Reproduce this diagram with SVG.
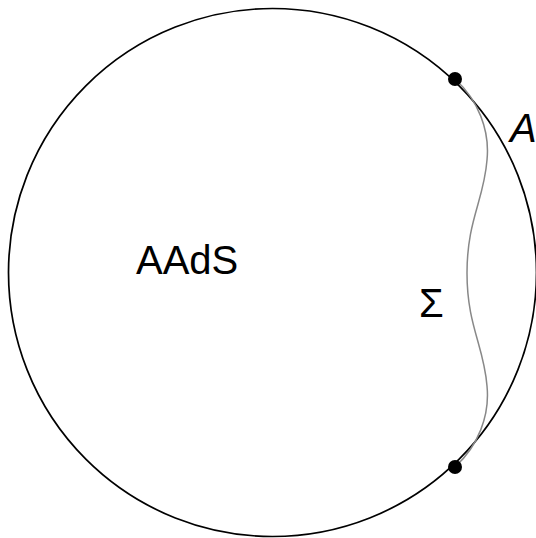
<svg xmlns="http://www.w3.org/2000/svg" width="536" height="538" viewBox="0 0 536 538">
<style>
.lbl{font-family:"Liberation Sans",Arial,sans-serif;font-size:40px;fill:#000}
.dot{fill:#000}
</style>
<rect width="536" height="538" fill="#fff"/>
<g id="boundary">
<circle cx="272.5" cy="272.5" r="264" fill="none" stroke="#000" stroke-width="1.7"/>
</g>
<g id="connectors">
<path d="M455,79 C478,100 490,130 487,160 C484,200 467,220 467,273 C467,326 484,346 487,386 C490,416 478,446 455,467" fill="none" stroke="#888" stroke-width="1.5"/>
</g>
<g id="dot-top"><circle class="dot" cx="455" cy="79" r="7"/></g>
<g id="dot-bottom"><circle class="dot" cx="455" cy="467" r="7"/></g>
<g id="label-aads"><text class="lbl" x="136" y="274">AAdS</text></g>
<g id="label-sigma"><text class="lbl" x="419" y="317">Σ</text></g>
<g id="label-a"><text class="lbl" x="510" y="142" font-style="italic">A</text></g>
</svg>
